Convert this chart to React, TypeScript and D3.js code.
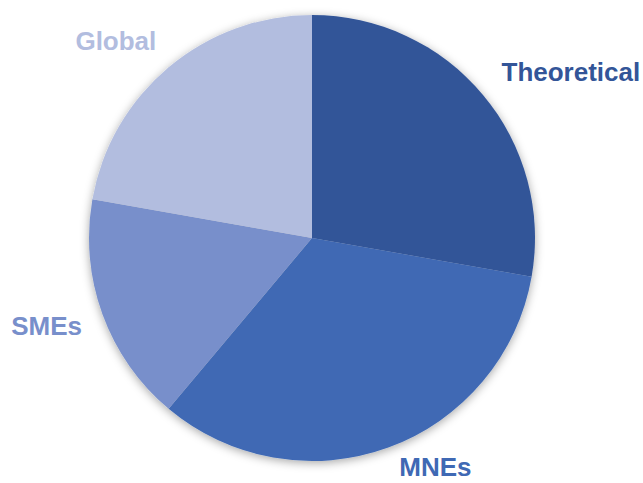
import React from "react";
import * as d3 from "d3";

const categories = ["Theoretical", "MNEs", "SMEs", "Global"];
const values = [10, 12, 6, 8];
const colors = ["#335598", "#3F69B4", "#788FCB", "#B2BDDF"];

const W = 643;
const H = 483;
const cx = 312;
const cy = 238;
const R = 223;
const labelR = 250;

export default function App() {
  const pie = d3.pie<number>().sort(null).value((d) => d)(values);
  const arc = d3.arc<d3.PieArcDatum<number>>().innerRadius(0).outerRadius(R);
  return (
    <svg
      width={W}
      height={H}
      style={{ position: "absolute", left: 0, top: 0, background: "#fff" }}
    >
      <defs>
        <filter id="sh" x="-20%" y="-20%" width="140%" height="140%">
          <feDropShadow dx="0" dy="2" stdDeviation="5" floodColor="#000" floodOpacity="0.35" />
        </filter>
      </defs>
      <g transform={`translate(${cx},${cy})`}>
        <g filter="url(#sh)">
          {pie.map((p, i) => (
            <path key={i} d={arc(p) || ""} fill={colors[i]} />
          ))}
        </g>
        {pie.map((p, i) => {
          const mid = (p.startAngle + p.endAngle) / 2;
          const x = labelR * Math.sin(mid);
          const y = -labelR * Math.cos(mid);
          const dx = x >= 0 ? -2 + 4 * Math.max(0, -Math.cos(mid)) : 5;
          const dy = Math.min(9 - 7.5 * Math.cos(mid), H - cy - 7 - y);
          return (
            <text
              key={"t" + i}
              x={x + dx}
              y={y + dy}
              textAnchor={x >= 0 ? "start" : "end"}
              fill={colors[i]}
              fontFamily="Liberation Sans, Arial, sans-serif"
              fontWeight="bold"
              fontSize={26}
            >
              {categories[i]}
            </text>
          );
        })}
      </g>
    </svg>
  );
}
